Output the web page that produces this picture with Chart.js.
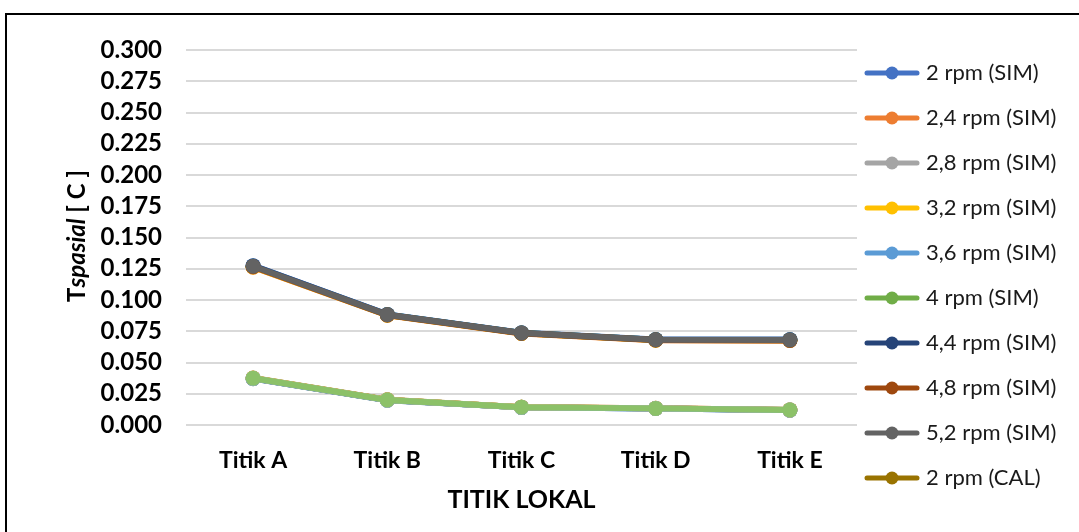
<!DOCTYPE html>
<html>
<head>
<meta charset="utf-8">
<script src="https://cdn.jsdelivr.net/npm/chart.js@4/dist/chart.umd.min.js"></script>
<style>
  html, body { margin: 0; padding: 0; background: #fff; overflow: hidden; }
  canvas { display: block; }
</style>
</head>
<body>
<canvas id="chart" width="1079" height="532"></canvas>
<script>
// measuring points along the section
const categories = ['Titik A', 'Titik B', 'Titik C', 'Titik D', 'Titik E'];

// y axis range
const yMin = 0;
const yMax = 0.3;
const yStep = 0.025;

// simulated values per rotation speed
const sim2  = [0.1275, 0.0885, 0.0738, 0.0684, 0.0683];
const sim24 = [0.1262, 0.0878, 0.0732, 0.0678, 0.0676];
const sim28 = [0.1268, 0.0881, 0.0735, 0.0681, 0.0680];
const sim32 = [0.1265, 0.0879, 0.0733, 0.0679, 0.0678];
const sim36 = [0.1272, 0.0884, 0.0737, 0.0683, 0.0682];
const sim40 = [0.1270, 0.0882, 0.0736, 0.0682, 0.0681];
const sim44 = [0.1273, 0.0883, 0.0736, 0.0682, 0.0682];
const sim48 = [0.1266, 0.0880, 0.0734, 0.0680, 0.0677];
const sim52 = [0.1270, 0.0882, 0.0736, 0.0682, 0.0681];

// calculated values per rotation speed
const cal2  = [0.0376, 0.0202, 0.0143, 0.0134, 0.0121];
const cal24 = [0.0371, 0.0198, 0.0141, 0.0132, 0.0119];
const cal28 = [0.0373, 0.0200, 0.0142, 0.0133, 0.0120];
const cal32 = [0.0372, 0.0199, 0.0141, 0.0132, 0.0119];
const cal36 = [0.0375, 0.0201, 0.0143, 0.0134, 0.0121];
const cal40 = [0.0374, 0.0200, 0.0142, 0.0133, 0.0120];
const cal44 = [0.0375, 0.0201, 0.0142, 0.0133, 0.0121];
const cal48 = [0.0373, 0.0199, 0.0141, 0.0132, 0.0120];
const cal52 = [0.0374, 0.0200, 0.0142, 0.0133, 0.0120];

const seriesLabels = [
  '2 rpm (SIM)', '2,4 rpm (SIM)', '2,8 rpm (SIM)', '3,2 rpm (SIM)', '3,6 rpm (SIM)',
  '4 rpm (SIM)', '4,4 rpm (SIM)', '4,8 rpm (SIM)', '5,2 rpm (SIM)',
  '2 rpm (CAL)', '2,4 rpm (CAL)', '2,8 rpm (CAL)', '3,2 rpm (CAL)', '3,6 rpm (CAL)',
  '4 rpm (CAL)', '4,4 rpm (CAL)', '4,8 rpm (CAL)', '5,2 rpm (CAL)'
];
const seriesValues = [
  sim2, sim24, sim28, sim32, sim36, sim40, sim44, sim48, sim52,
  cal2, cal24, cal28, cal32, cal36, cal40, cal44, cal48, cal52
];
const seriesColors = [
  '#4472C4', '#ED7D31', '#A5A5A5', '#FFC000', '#5B9BD5', '#70AD47',
  '#264478', '#9E480E', '#636363', '#997300', '#255E91', '#43682B',
  '#698ED0', '#F1975A', '#B7B7B7', '#FFCD33', '#7CAFDD', '#8CC168'
];
const legendShown = 10;

const FONT = 'Lato, "Open Sans", sans-serif';

// line + marker swatch used as the legend symbol
function swatch(color) {
  const c = document.createElement('canvas');
  c.width = 56;
  c.height = 16;
  const g = c.getContext('2d');
  g.strokeStyle = color;
  g.lineWidth = 5;
  g.lineCap = 'round';
  g.beginPath();
  g.moveTo(3, 8);
  g.lineTo(53, 8);
  g.stroke();
  g.fillStyle = color;
  g.beginPath();
  g.arc(28, 8, 6.5, 0, Math.PI * 2);
  g.fill();
  return c;
}
const swatches = seriesColors.map(swatch);

const datasets = seriesLabels.map((label, i) => ({
  label: label,
  data: seriesValues[i],
  borderColor: seriesColors[i],
  backgroundColor: seriesColors[i],
  borderWidth: 6,
  pointStyle: 'circle',
  pointRadius: 7.5,
  pointHoverRadius: 7.5,
  pointBorderWidth: 0,
  tension: 0,
  order: seriesLabels.length - i
}));

// outer frame + white background
const frame = {
  id: 'frame',
  beforeDraw(chart) {
    const ctx = chart.ctx;
    ctx.save();
    ctx.fillStyle = '#fff';
    ctx.fillRect(0, 0, chart.width, chart.height);
    ctx.strokeStyle = '#000';
    ctx.lineWidth = 2;
    ctx.beginPath();
    ctx.moveTo(6, chart.height);
    ctx.lineTo(6, 14);
    ctx.lineTo(chart.width, 14);
    ctx.stroke();
    ctx.restore();
  }
};

// put the legend column next to the plot
const legendPlace = {
  id: 'legendPlace',
  afterLayout(chart) {
    const lg = chart.legend;
    lg.left = 846;
    lg.right = chart.width;
    lg.width = lg.right - lg.left;
    lg.top = 39;
    lg.bottom = chart.height;
    lg.height = lg.bottom - lg.top;
  }
};

// y axis title with the italic subscript part
const yTitle = {
  id: 'yTitle',
  afterDraw(chart) {
    const ctx = chart.ctx;
    const parts = [
      ['T', 'bold 24px ' + FONT],
      ['spasial', 'italic bold 24px ' + FONT],
      [' [ C ]', 'bold 24px ' + FONT]
    ];
    ctx.save();
    let total = 0;
    parts.forEach(p => { ctx.font = p[1]; total += ctx.measureText(p[0]).width; });
    ctx.translate(77, 236);
    ctx.rotate(-Math.PI / 2);
    ctx.fillStyle = '#000';
    ctx.textBaseline = 'middle';
    ctx.textAlign = 'left';
    let x = -total / 2;
    parts.forEach(p => {
      ctx.font = p[1];
      ctx.fillText(p[0], x, 0);
      x += ctx.measureText(p[0]).width;
    });
    ctx.restore();
  }
};

new Chart(document.getElementById('chart'), {
  type: 'line',
  data: { labels: categories, datasets: datasets },
  options: {
    responsive: false,
    animation: false,
    layout: { padding: { top: 50, right: 222, bottom: 0, left: 0 } },
    plugins: {
      legend: {
        position: 'chartArea',
        align: 'start',
        labels: {
          usePointStyle: true,
          pointStyleWidth: 46,
          padding: 23,
          color: '#1a1a1a',
          font: { family: FONT, size: 22 },
          generateLabels(chart) {
            const items = Chart.defaults.plugins.legend.labels.generateLabels(chart);
            items.forEach(item => { item.pointStyle = swatches[item.datasetIndex]; });
            return items;
          },
          filter: item => item.datasetIndex < legendShown,
          sort: (a, b) => a.datasetIndex - b.datasetIndex
        }
      },
      tooltip: { enabled: false }
    },
    scales: {
      x: {
        offset: true,
        grid: { display: false, drawTicks: false },
        border: { display: false },
        ticks: {
          color: '#000',
          padding: 22,
          font: { family: FONT, size: 23, weight: 'bold' }
        },
        title: {
          display: true,
          text: 'TITIK LOKAL',
          color: '#000',
          font: { family: FONT, size: 25, weight: 'bold' },
          padding: { top: 0, bottom: 17 }
        },
        afterFit(scale) { scale.height = 107; }
      },
      y: {
        min: yMin,
        max: yMax,
        grid: { color: '#d9d9d9', lineWidth: 2, drawTicks: false },
        border: { display: false },
        ticks: {
          stepSize: yStep,
          autoSkip: false,
          color: '#000',
          padding: 24,
          font: { family: FONT, size: 24, weight: 'bold' },
          callback: v => Number(v).toFixed(3)
        },
        afterFit(scale) { scale.width = 186; }
      }
    }
  },
  plugins: [frame, legendPlace, yTitle]
});
</script>
</body>
</html>
